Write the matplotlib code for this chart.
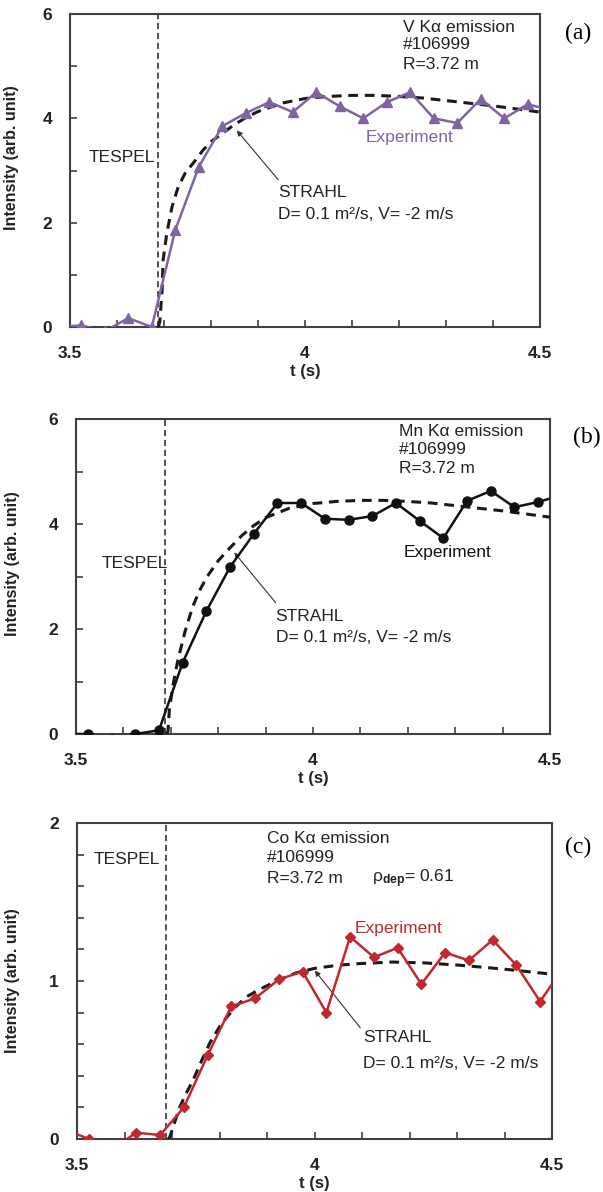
import numpy as np
import matplotlib
matplotlib.use("Agg")
import matplotlib.pyplot as plt

plt.rcParams['font.family'] = ['Liberation Sans', 'DejaVu Sans']
plt.rcParams['mathtext.fontset'] = 'custom'
plt.rcParams['mathtext.rm'] = 'Liberation Sans'
plt.rcParams['mathtext.it'] = 'Liberation Sans:italic'
plt.rcParams['mathtext.bf'] = 'Liberation Sans:bold'

# ---- (a) V K-alpha ----
exp_t_a = [3.474, 3.524, 3.574, 3.624, 3.674, 3.724, 3.774, 3.824, 3.874, 3.924, 3.974,
           4.024, 4.074, 4.124, 4.174, 4.224, 4.274, 4.324, 4.374, 4.424, 4.474, 4.524]
exp_a = [0.0, 0.03, -0.08, 0.17, 0.0, 1.86, 3.07, 3.85, 4.10, 4.31, 4.12,
         4.50, 4.23, 4.00, 4.31, 4.50, 4.00, 3.91, 4.37, 4.00, 4.27, 4.15]
strahl_t_a = [3.688, 3.691, 3.696, 3.698, 3.706, 3.717, 3.730, 3.745, 3.762, 3.783, 3.80,
              3.825, 3.85, 3.875, 3.90, 3.95, 4.00, 4.05, 4.10, 4.15, 4.20, 4.25, 4.30,
              4.35, 4.40, 4.45, 4.50]
strahl_a = [0.0, 0.1, 0.71, 1.28, 1.8, 2.3, 2.68, 2.95, 3.14, 3.39, 3.55,
            3.72, 3.88, 4.02, 4.13, 4.29, 4.38, 4.42, 4.44, 4.44, 4.42, 4.39, 4.34,
            4.29, 4.24, 4.18, 4.12]

# ---- (b) Mn K-alpha ----
exp_t_b = [3.475, 3.525, 3.575, 3.625, 3.675, 3.725, 3.775, 3.825, 3.875, 3.925, 3.975,
           4.025, 4.075, 4.125, 4.175, 4.225, 4.275, 4.325, 4.375, 4.425, 4.475, 4.525]
exp_b = [0.0, 0.0, -0.1, 0.0, 0.07, 1.36, 2.34, 3.18, 3.81, 4.40, 4.40,
         4.10, 4.08, 4.15, 4.40, 4.06, 3.73, 4.44, 4.63, 4.32, 4.42, 4.55]
strahl_t_b = [3.690, 3.694, 3.697, 3.705, 3.715, 3.73, 3.746, 3.76, 3.776, 3.80, 3.82, 3.85,
              3.875, 3.90, 3.95, 4.00, 4.05, 4.10, 4.15, 4.20, 4.25, 4.30, 4.35, 4.40, 4.45,
              4.50]
strahl_b = [0.0, 0.05, 0.46, 0.95, 1.41, 1.95, 2.42, 2.72, 2.99, 3.3, 3.5, 3.78,
            3.97, 4.12, 4.30, 4.39, 4.43, 4.45, 4.45, 4.43, 4.40, 4.35, 4.30, 4.25, 4.19,
            4.13]

# ---- (c) Co K-alpha ----
exp_t_c = [3.475, 3.525, 3.575, 3.625, 3.675, 3.725, 3.775, 3.825, 3.875, 3.925, 3.975,
           4.025, 4.075, 4.125, 4.175, 4.225, 4.275, 4.325, 4.375, 4.425, 4.475, 4.525]
exp_c = [0.06, 0.0, -0.06, 0.04, 0.025, 0.20, 0.53, 0.84, 0.89, 1.01, 1.06,
         0.80, 1.28, 1.15, 1.21, 0.98, 1.18, 1.13, 1.26, 1.10, 0.87, 1.09]
strahl_t_c = [3.692, 3.695, 3.705, 3.716, 3.73, 3.744, 3.76, 3.78, 3.80, 3.815, 3.835, 3.857,
              3.88, 3.92, 3.96, 4.00, 4.05, 4.094, 4.164, 4.23, 4.305, 4.40, 4.50]
strahl_c = [0.0, 0.01, 0.1, 0.2, 0.29, 0.37, 0.48, 0.61, 0.71, 0.77, 0.84, 0.90,
            0.94, 1.0, 1.05, 1.08, 1.10, 1.11, 1.12, 1.115, 1.10, 1.075, 1.043]

tespel_t = 3.688
x_ticks = [3.5, 3.6, 3.7, 3.8, 3.9, 4.0, 4.1, 4.2, 4.3, 4.4, 4.5]
x_ticklabels = ['3.5', '', '', '', '', '4', '', '', '', '', '4.5']
y_ticks_ab = [0, 1, 2, 3, 4, 5, 6]
y_ticklabels_ab = ['0', '', '2', '', '4', '', '6']
y_ticks_c = [0, 0.2, 0.4, 0.6, 0.8, 1.0, 1.2, 1.4, 1.6, 1.8, 2.0]
y_ticklabels_c = ['0', '', '', '', '', '1', '', '', '', '', '2']

W, H = 603, 1192
fig = plt.figure(figsize=(W / 100, H / 100), dpi=100)


def make_ax(l, r, t, b):
    return fig.add_axes([l / W, 1 - b / H, (r - l) / W, (b - t) / H])


def style(ax, yticks, ylabels):
    ax.set_xlim(3.5, 4.5)
    ax.set_ylim(yticks[0], yticks[-1])
    ax.set_xticks(x_ticks)
    ax.set_xticklabels(x_ticklabels)
    ax.set_yticks(yticks)
    ax.set_yticklabels(ylabels)
    ax.tick_params(direction='in', length=5, width=1.2, color='#404040',
                   labelsize=12.5)
    ax.tick_params(axis='x', pad=14)
    ax.tick_params(axis='y', pad=13)
    for lab in ax.get_xticklabels() + ax.get_yticklabels():
        lab.set_fontweight('bold')
        lab.set_color('#222222')
    for s in ax.spines.values():
        s.set_color('#404040')
        s.set_linewidth(1.5)
    ax.set_ylabel('Intensity (arb. unit)', fontsize=11.5, fontweight='bold', color='#222222')
    ax.text(0.5, -0.142, 't (s)', transform=ax.transAxes, ha='center', va='center',
            fontsize=12, fontweight='bold', color='#222222')
    ax.axvline(tespel_t, color='#222222', lw=1.1, ls=(0, (4, 2.5)))


def strahl(ax, t, v):
    ax.plot(t, v, color='#1a1a1a', lw=2.2, ls=(0, (3.2, 2.2)), zorder=3)


txt = dict(fontsize=12.5, color='#222222')
plab = dict(family='Liberation Serif', fontsize=17, ha='center', va='center')

# ---------- panel (a) ----------
ax = make_ax(70, 540, 14, 327)
style(ax, y_ticks_ab, y_ticklabels_ab)
ax.yaxis.set_label_coords(-0.108, 0.54)
strahl(ax, strahl_t_a, strahl_a)
ax.plot(exp_t_a, exp_a, color='#8064a2', lw=1.8, marker='^', ms=6.5, zorder=4)
ax.text(4.209, 5.75, 'V K\u03b1 emission', va='center', **txt)
ax.text(4.209, 5.41, '#106999', va='center', **txt)
ax.text(4.209, 5.04, 'R=3.72 m', va='center', **txt)
ax.text(4.128, 3.64, 'Experiment', va='center', fontsize=12.5, color='#8064a2')
ax.text(3.681, 3.24, 'TESPEL', ha='right', va='center', **txt)
ax.text(3.943, 2.57, 'STRAHL', va='center', **txt)
ax.text(3.943, 2.15, 'D= 0.1 m\u00b2/s, V= -2 m/s', va='center', **txt)
ax.annotate('', xy=(3.851, 3.81), xytext=(3.947, 2.78),
            arrowprops=dict(arrowstyle='-|>', lw=0.8, color='#333333', mutation_scale=8))
fig.text(578 / W, 1 - 33 / H, '(a)', **plab)

# ---------- panel (b) ----------
ax = make_ax(76, 550, 419, 734)
style(ax, y_ticks_ab, y_ticklabels_ab)
ax.yaxis.set_label_coords(-0.118, 0.54)
strahl(ax, strahl_t_b, strahl_b)
ax.plot(exp_t_b, exp_b, color='#111111', lw=1.8, marker='o', ms=6.5, zorder=4)
ax.text(4.182, 5.76, 'Mn K\u03b1 emission', va='center', **txt)
ax.text(4.182, 5.41, '#106999', va='center', **txt)
ax.text(4.182, 5.05, 'R=3.72 m', va='center', **txt)
ax.text(4.191, 3.45, 'Experiment', va='center', fontsize=12.5, color='#111111')
ax.text(3.6937, 3.24, 'TESPEL', ha='right', va='center', **txt)
ax.text(3.921, 2.23, 'STRAHL', va='center', **txt)
ax.text(3.921, 1.83, 'D= 0.1 m\u00b2/s, V= -2 m/s', va='center', **txt)
ax.annotate('', xy=(3.83, 3.50), xytext=(3.925, 2.46),
            arrowprops=dict(arrowstyle='-|>', lw=0.8, color='#333333', mutation_scale=8))
fig.text(587 / W, 1 - 437 / H, '(b)', **plab)

# ---------- panel (c) ----------
ax = make_ax(77, 552, 823, 1139)
style(ax, y_ticks_c, y_ticklabels_c)
ax.yaxis.set_label_coords(-0.12, 0.5)
strahl(ax, strahl_t_c, strahl_c)
ax.plot(exp_t_c, exp_c, color='#c0282e', lw=1.8, marker='D', ms=5, zorder=4)
ax.text(3.90, 1.90, 'Co K\u03b1 emission', va='center', **txt)
ax.text(3.90, 1.78, '#106999', va='center', **txt)
ax.text(3.90, 1.65, 'R=3.72 m', va='center', **txt)
ax.text(4.121, 1.65, '$\\mathrm{\u03c1}_{\\mathbf{dep}}$= 0.61', va='center', **txt)
ax.text(4.085, 1.335, 'Experiment', va='center', fontsize=12.5, color='#c0282e')
ax.text(3.675, 1.77, 'TESPEL', ha='right', va='center', **txt)
ax.text(4.102, 0.64, 'STRAHL', va='center', **txt)
ax.text(4.102, 0.48, 'D= 0.1 m\u00b2/s, V= -2 m/s', va='center', **txt)
ax.annotate('', xy=(3.997, 1.08), xytext=(4.10, 0.69),
            arrowprops=dict(arrowstyle='-|>', lw=0.8, color='#333333', mutation_scale=8))
fig.text(578 / W, 1 - 847 / H, '(c)', **plab)

fig.savefig('out.png', dpi=100)
